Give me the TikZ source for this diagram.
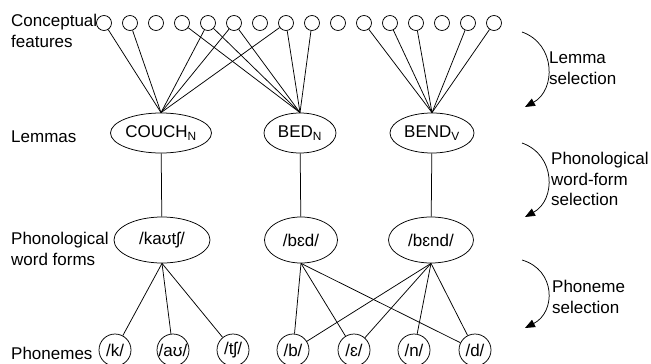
\documentclass[tikz,border=0pt]{standalone}
\usepackage{fontspec}
\setmainfont{Liberation Sans}
\usetikzlibrary{shapes.geometric,arrows.meta}
\tikzset{
  every picture/.style={x=1pt,y=-1pt},
  edge/.style={draw=black,line width=0.75pt},
  feat/.style={circle,draw,line width=0.75pt,minimum size=15pt,inner sep=0pt},
  lemma/.style={ellipse,draw,line width=0.75pt,inner sep=0pt,minimum height=40pt},
  wform/.style={ellipse,draw,line width=0.75pt,inner sep=0pt,minimum height=46pt},
  phon/.style={circle,draw,line width=0.75pt,minimum size=32pt,inner sep=0pt},
  lab/.style={anchor=west,inner sep=0pt,align=left,font=\fontsize{17}{20.5}\selectfont},
  txt/.style={font=\fontsize{17}{20.5}\selectfont},
  selarrow/.style={line width=0.75pt,-{Triangle[length=10pt,width=8pt]}}
}
\begin{document}
\begin{tikzpicture}
\useasboundingbox (0,0) rectangle (651,364);
% left labels
\node[lab] (lconc) at (11,31) {Conceptual\\features};
\node[lab] (llem) at (11,137) {Lemmas};
\node[lab] (lwf) at (11,249) {Phonological\\word forms};
\node[lab] (lph) at (11,353) {Phonemes};
% conceptual feature circles
\foreach \i in {1,...,16} {
  \node[feat] (c\i) at ({104+26*(\i-1)},23) {};
}
% lemmas
\node[lemma,txt,minimum width=100pt] (couch) at (161,133) {COUCH\textsubscript{N}};
\node[lemma,txt,minimum width=72pt] (bed) at (300,133) {BED\textsubscript{N}};
\node[lemma,txt,minimum width=84pt] (bend) at (432,133) {BEND\textsubscript{V}};
% word forms
\node[wform,txt,minimum width=96pt] (wkauts) at (162,240) {/kaʊtʃ/};
\node[wform,txt,minimum width=73pt] (wbed) at (301,240) {/bɛd/};
\node[wform,txt,minimum width=85pt] (wbend) at (431,240) {/bɛnd/};
% phonemes
\node[phon,txt] (pk) at (115,350) {\makebox[0pt]{/k/}};
\node[phon,txt] (pau) at (173,350) {\makebox[0pt]{/aʊ/}};
\node[phon,txt] (pts) at (233,350) {\makebox[0pt]{/tʃ/}};
\node[phon,txt] (pb) at (293,350) {\makebox[0pt]{/b/}};
\node[phon,txt] (pe) at (354,350) {\makebox[0pt]{/ɛ/}};
\node[phon,txt] (pn) at (414,350) {\makebox[0pt]{/n/}};
\node[phon,txt] (pd) at (475,350) {\makebox[0pt]{/d/}};
% feature -> lemma
\foreach \i in {1,2,5,6,8} { \draw[edge] (c\i) -- (couch.north); }
\foreach \i in {4,5,6,8,9} { \draw[edge] (c\i) -- (bed.north); }
\foreach \i in {11,12,13,15,16} { \draw[edge] (c\i) -- (bend.north); }
% lemma -> word form
\draw[edge] (couch) -- (wkauts);
\draw[edge] (bed) -- (wbed);
\draw[edge] (bend) -- (wbend);
% word form -> phonemes
\foreach \p in {pk,pau,pts} { \draw[edge] (wkauts.south) -- (\p); }
\foreach \p in {pb,pe,pd} { \draw[edge] (wbed.south) -- (\p); }
\foreach \p in {pb,pe,pn,pd} { \draw[edge] (wbend.south) -- (\p); }
% right side selection arrows
\coordinate (a1s) at (522,32);  \coordinate (a1e) at (525,107);
\coordinate (a2s) at (522,143); \coordinate (a2e) at (525,217);
\coordinate (a3s) at (522,260); \coordinate (a3e) at (525,328);
\draw[selarrow] (a1s) .. controls (556,44) and (556,90) .. (a1e);
\draw[selarrow] (a2s) .. controls (556,155) and (556,200) .. (a2e);
\draw[selarrow] (a3s) .. controls (556,270) and (556,312) .. (a3e);
\node[lab] (t1) at (549,68) {Lemma\\selection};
\node[lab] (t2) at (551,179) {Phonological\\word-form\\selection};
\node[lab] (t3) at (552,297) {Phoneme\\selection};
\end{tikzpicture}
\end{document}
